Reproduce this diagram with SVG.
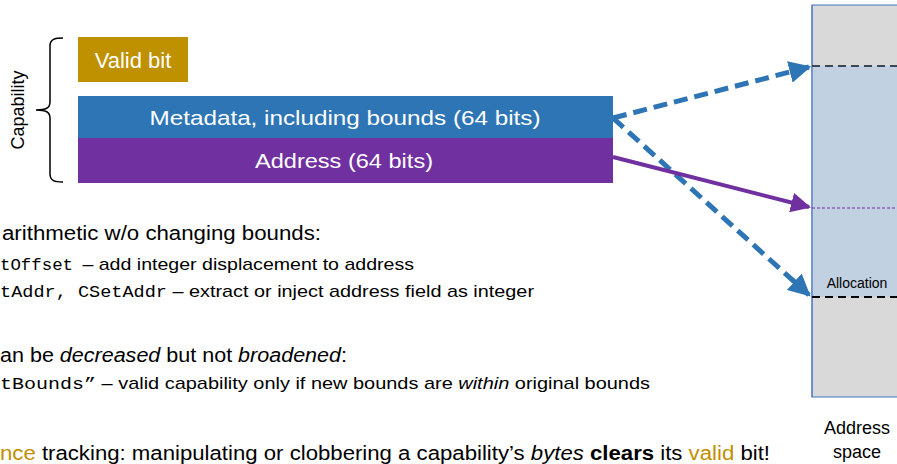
<svg xmlns="http://www.w3.org/2000/svg" width="897" height="464" viewBox="0 0 897 464">
<style>
text{font-family:"Liberation Sans",Arial,sans-serif;fill:#000}
.w{fill:#fff}
.mono{font-family:"Liberation Mono","DejaVu Sans Mono",monospace}
.gold{fill:#bf9000}
.big{font-size:20px}
.small{font-size:17px}
</style>
<defs>
<marker id="ab" viewBox="0 0 10 10" refX="9" refY="5" markerWidth="4.4" markerHeight="4.4" orient="auto" markerUnits="strokeWidth"><path d="M0,0 L10,5 L0,10 z" fill="#2e75b6"/></marker>
<marker id="ap" viewBox="0 0 10 10" refX="9" refY="5" markerWidth="5" markerHeight="5" orient="auto" markerUnits="strokeWidth"><path d="M0,0 L10,5 L0,10 z" fill="#7030a0"/></marker>
</defs>
<g id="address-space">
<rect x="812" y="5" width="100" height="392" fill="#d9d9d9" stroke="#4472c4" stroke-width="1"/>
<rect x="812.5" y="66" width="100" height="231" fill="#c2d1e1"/>
<line x1="812" y1="5" x2="812" y2="397" stroke="#4472c4" stroke-width="1"/>
<line x1="812" y1="66" x2="897" y2="66" stroke="#3b4656" stroke-width="2" stroke-dasharray="8,5"/>
<line x1="812" y1="297" x2="897" y2="297" stroke="#000" stroke-width="2" stroke-dasharray="8,5"/>
<line x1="812" y1="208" x2="897" y2="208" stroke="#7030a0" stroke-width="1" stroke-dasharray="3,2"/>
<text x="857" y="288" font-size="14" text-anchor="middle">Allocation</text>
<text x="857" y="434" font-size="18" text-anchor="middle">Address</text>
<text x="857" y="458" font-size="18" text-anchor="middle">space</text>
</g>
<g id="capability">
<path d="M63,38 C55,38 50,39 50,46 L50,102 C50,108 46,110 36,110 C46,110 50,112 50,118 L50,174 C50,181 55,182 63,182" fill="none" stroke="#000" stroke-width="1.5"/>
<text transform="translate(24,110) rotate(-90)" font-size="18" text-anchor="middle">Capability</text>
</g>
<g id="valid-bit">
<rect x="78" y="37" width="110" height="45" fill="#bf9000"/>
<text class="w" x="133" y="68" font-size="22" text-anchor="middle">Valid bit</text>
</g>
<g id="metadata">
<rect x="78" y="96" width="535" height="43" fill="#2e75b6"/>
<text class="w" x="345" y="125" font-size="21" text-anchor="middle" textLength="391" lengthAdjust="spacingAndGlyphs">Metadata, including bounds (64 bits)</text>
</g>
<g id="address">
<rect x="78" y="138" width="535" height="45" fill="#7030a0"/>
<text class="w" x="344" y="168" font-size="21" text-anchor="middle" textLength="178" lengthAdjust="spacingAndGlyphs">Address (64 bits)</text>
</g>
<g id="connectors">
<line x1="613" y1="118" x2="809" y2="67" stroke="#2e75b6" stroke-width="5" stroke-dasharray="14,7" marker-end="url(#ab)"/>
<line x1="613" y1="118" x2="809" y2="295" stroke="#2e75b6" stroke-width="5" stroke-dasharray="14,7" marker-end="url(#ab)"/>
<line x1="613" y1="157" x2="809" y2="207" stroke="#7030a0" stroke-width="4" marker-end="url(#ap)"/>
</g>
<g id="text-body">
<text class="big" x="2" y="240" textLength="319" lengthAdjust="spacingAndGlyphs">arithmetic w/o changing bounds:</text>
<text class="small" y="270"><tspan class="mono" x="0" textLength="73" lengthAdjust="spacingAndGlyphs">tOffset</tspan><tspan x="77" textLength="337" lengthAdjust="spacingAndGlyphs"> – add integer displacement to address</tspan></text>
<text class="small" y="297"><tspan class="mono" x="0" textLength="167" lengthAdjust="spacingAndGlyphs">tAddr, CSetAddr</tspan><tspan x="167" textLength="367" lengthAdjust="spacingAndGlyphs"> – extract or inject address field as integer</tspan></text>
<text class="big" x="0" y="362" textLength="347" lengthAdjust="spacingAndGlyphs">an be <tspan font-style="italic">decreased</tspan> but not <tspan font-style="italic">broadened</tspan>:</text>
<text class="small" y="389"><tspan class="mono" x="0" textLength="96" lengthAdjust="spacingAndGlyphs">tBounds”</tspan><tspan x="96" textLength="554" lengthAdjust="spacingAndGlyphs"> – valid capability only if new bounds are <tspan font-style="italic">within</tspan> original bounds</tspan></text>
<text class="big" x="0" y="460" textLength="770" lengthAdjust="spacingAndGlyphs"><tspan class="gold">nce</tspan> tracking: manipulating or clobbering a capability’s <tspan font-style="italic">bytes</tspan> <tspan font-weight="bold">clears</tspan> its <tspan class="gold">valid</tspan> bit!</text>
</g>
</svg>
